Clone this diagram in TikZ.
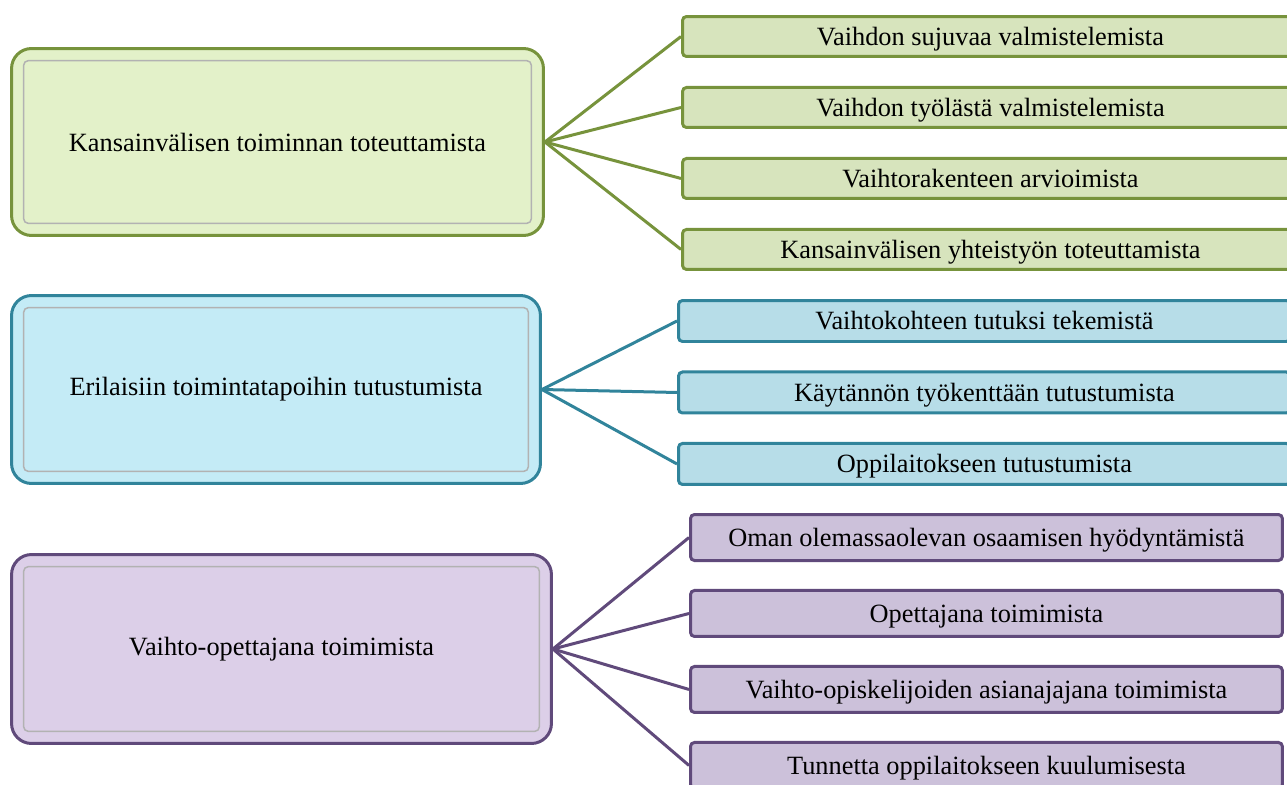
\documentclass[tikz,border=0pt]{standalone}
\usepackage{fontspec}
\setmainfont{Liberation Serif}
\usepackage{tikz}
\usetikzlibrary{positioning}
\definecolor{grnline}{HTML}{77933C}
\definecolor{grnbig}{HTML}{E3F1C9}
\definecolor{grnsmall}{HTML}{D7E4BD}
\definecolor{bluline}{HTML}{31849B}
\definecolor{blubig}{HTML}{C4EBF6}
\definecolor{blusmall}{HTML}{B7DDE8}
\definecolor{purline}{HTML}{604A7B}
\definecolor{purbig}{HTML}{DCCFE8}
\definecolor{pursmall}{HTML}{CCC1DA}

\begin{document}
\begin{tikzpicture}[
x=0.02cm, y=-0.02cm,
font=\fontsize{15}{18}\selectfont,
bigbox/.style={draw=#1line, fill=#1big, line width=0.06cm, rounded corners=0.4cm,
  minimum height=3.74cm, inner sep=0pt,
  path picture={\draw[black!30, line width=0.03cm, rounded corners=0.1cm]
    ([shift={(0.24cm,0.24cm)}]path picture bounding box.south west) rectangle
    ([shift={(-0.24cm,-0.24cm)}]path picture bounding box.north east);}},
smallbox/.style={draw=#1line, fill=#1small, line width=0.06cm, rounded corners=0.08cm,
  minimum height=0.8cm, inner sep=0pt, anchor=west, text height=0.45cm, text depth=0.1cm},
link/.style={draw=#1line, line width=0.06cm}
]
    \clip (0,0) rectangle (1287,784);

    % Kansainvalinen toiminta
    \node (green) [bigbox=grn, minimum width=10.64cm] at (277.5,142) {Kansainvälisen toiminnan toteuttamista};
    \node (g1) [smallbox=grn, minimum width=12.32cm] at (681,36.5) {Vaihdon sujuvaa valmistelemista};
    \node (g2) [smallbox=grn, minimum width=12.32cm, below=0.56cm of g1] {Vaihdon työlästä valmistelemista};
    \node (g3) [smallbox=grn, minimum width=12.32cm, below=0.56cm of g2] {Vaihtorakenteen arvioimista};
    \node (g4) [smallbox=grn, minimum width=12.32cm, below=0.56cm of g3] {Kansainvälisen yhteistyön toteuttamista};

    % Toimintatavat
    \node (blue) [bigbox=blu, minimum width=10.58cm, minimum height=3.76cm] at (276,389.5) {Erilaisiin toimintatapoihin tutustumista};
    \node (b1) [smallbox=blu, minimum width=12.24cm, minimum height=0.82cm] at (677,321) {Vaihtokohteen tutuksi tekemistä};
    \node (b2) [smallbox=blu, minimum width=12.24cm, minimum height=0.82cm, below=0.55cm of b1] {Käytännön työkenttään tutustumista};
    \node (b3) [smallbox=blu, minimum width=12.24cm, minimum height=0.82cm, below=0.55cm of b2] {Oppilaitokseen tutustumista};

    % Vaihto-opettajana
    \node (purple) [bigbox=pur, minimum width=10.8cm, minimum height=3.78cm] at (281.5,649) {Vaihto-opettajana toimimista};
    \node (p1) [smallbox=pur, minimum width=11.84cm, minimum height=0.92cm] at (689,537.5) {Oman olemassaolevan osaamisen hyödyntämistä};
    \node (p2) [smallbox=pur, minimum width=11.84cm, minimum height=0.92cm, below=0.54cm of p1] {Opettajana toimimista};
    \node (p3) [smallbox=pur, minimum width=11.84cm, minimum height=0.92cm, below=0.54cm of p2] {Vaihto-opiskelijoiden asianajajana toimimista};
    \node (p4) [smallbox=pur, minimum width=11.84cm, minimum height=0.92cm, below=0.54cm of p3] {Tunnetta oppilaitokseen kuulumisesta};

    \foreach \n in {g1,g2,g3,g4}
        \draw[link=grn] (green.east) -- (\n.west);
    \foreach \n in {b1,b2,b3}
        \draw[link=blu] (blue.east) -- (\n.west);
    \foreach \n in {p1,p2,p3,p4}
        \draw[link=pur] (purple.east) -- (\n.west);

\end{tikzpicture}
\end{document}
